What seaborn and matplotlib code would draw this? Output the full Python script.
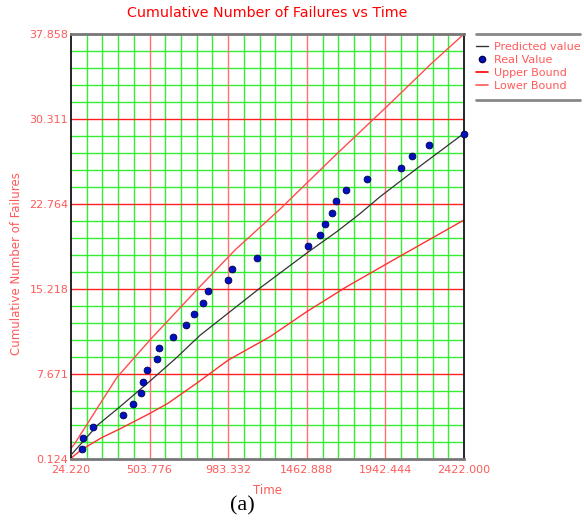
import matplotlib
matplotlib.use("Agg")
import matplotlib.pyplot as plt
from matplotlib.lines import Line2D
import seaborn as sns
import pandas as pd

# ---- data ----
time_real = [89.5, 97.4, 156.6, 343.3, 402.5, 451.3, 463.5, 487.9, 547.0, 563.0,
             644.7, 727.7, 774.7, 829.6, 858.2, 980.3, 1004.7, 1160.8, 1470.2, 1541.6,
             1573.9, 1614.8, 1639.2, 1700.2, 1830.2, 2039.4, 2106.5, 2208.4, 2422.0]
failures_real = [1, 2, 3, 4, 5, 6, 7, 8, 9, 10, 11, 12, 13, 14, 15, 16, 17, 18, 19, 20,
                 21, 22, 23, 24, 25, 26, 27, 28, 29]

time_pred = [24.22, 187.0, 311.0, 502.0, 659.0, 811.0, 994.0, 1177.0, 1462.0, 1645.0,
             1787.0, 1909.0, 2133.0, 2422.0]
failures_pred = [0.48, 3.14, 4.62, 6.99, 9.0, 11.1, 13.2, 15.3, 18.4, 20.3,
                 21.9, 23.4, 25.9, 29.04]

time_upper = [24.22, 44.6, 117.6, 209.1, 306.0, 506.0, 791.0, 1024.8, 1299.0, 1634.9,
              1950.0, 2225.0, 2422.0]
failures_upper = [1.07, 1.45, 3.1, 5.2, 7.4, 10.69, 15.13, 18.68, 22.3, 27.06,
                  31.40, 35.26, 37.858]

time_lower = [24.22, 85.2, 209.0, 323.0, 506.0, 616.0, 791.0, 984.0, 1238.0, 1462.0,
              1706.0, 1990.6, 2422.0]
failures_lower = [0.19, 0.92, 2.0, 2.8, 4.18, 5.07, 6.85, 8.91, 10.98, 13.2,
                  15.42, 17.79, 21.34]

x_ticks = [24.220, 503.776, 983.332, 1462.888, 1942.444, 2422.000]
x_tick_labels = ["24.220", "503.776", "983.332", "1462.888", "1942.444", "2422.000"]
y_ticks = [0.124, 7.671, 15.218, 22.764, 30.311, 37.858]
y_tick_labels = ["0.124", "7.671", "15.218", "22.764", "30.311", "37.858"]

title_text = "Cumulative Number of Failures vs Time"
x_label = "Time"
y_label = "Cumulative Number of Failures"
legend_labels = ["Predicted value", "Real Value", "Upper Bound", "Lower Bound"]
caption = "(a)"

# ---- plotting ----
sns.set_style("white")
plt.rcParams["font.family"] = ["DejaVu Sans"]

RED = "#ff2020"
LRED = "#ff5a5a"
GREEN = "#33ee33"

fig = plt.figure(figsize=(5.84, 5.21), dpi=100)
ax = fig.add_axes([71 / 584, 62 / 521, 393 / 584, 425 / 521])

ax.set_xlim(x_ticks[0], x_ticks[-1])
ax.set_ylim(y_ticks[0], y_ticks[-1])

# grid: minor green, major red
xstep = (x_ticks[1] - x_ticks[0]) / 5
ystep = (y_ticks[1] - y_ticks[0]) / 5
for i in range(1, 25):
    if i % 5:
        ax.axvline(x_ticks[0] + i * xstep, color=GREEN, lw=1.0, zorder=0)
        ax.axhline(y_ticks[0] + i * ystep, color=GREEN, lw=1.0, zorder=0)
for v in x_ticks[1:-1]:
    ax.axvline(v, color="#ff7070", lw=1.0, zorder=0.5)
for v in y_ticks[1:-1]:
    ax.axhline(v, color=RED, lw=1.0, zorder=0.5)

df_pred = pd.DataFrame({"t": time_pred, "n": failures_pred})
df_up = pd.DataFrame({"t": time_upper, "n": failures_upper})
df_lo = pd.DataFrame({"t": time_lower, "n": failures_lower})
df_real = pd.DataFrame({"t": time_real, "n": failures_real})

sns.lineplot(data=df_up, x="t", y="n", ax=ax, color="#ff4d4d", lw=1.0, zorder=2,
             sort=False, estimator=None)
sns.lineplot(data=df_lo, x="t", y="n", ax=ax, color="#ff3030", lw=1.0, zorder=2,
             sort=False, estimator=None)
sns.lineplot(data=df_pred, x="t", y="n", ax=ax, color="#333333", lw=0.9, zorder=3,
             sort=False, estimator=None)
sns.scatterplot(data=df_real, x="t", y="n", ax=ax, color="#0010c0", s=24,
                edgecolor="#000050", linewidth=0.6, zorder=4, clip_on=False)

ax.set_xticks(x_ticks)
ax.set_xticklabels(x_tick_labels)
ax.set_yticks(y_ticks)
ax.set_yticklabels(y_tick_labels)
ax.tick_params(axis="both", length=0, labelsize=8, labelcolor=LRED)
ax.tick_params(axis="x", pad=4)
ax.tick_params(axis="y", pad=2)
for lab in ax.get_xticklabels():
    lab.set_horizontalalignment("center")

ax.set_xlabel(x_label, color=LRED, fontsize=8.5, labelpad=7)
ax.set_ylabel(y_label, color=LRED, fontsize=8.5)
ax.yaxis.set_label_coords(-0.122, 0.461)
ax.set_title(title_text, color="#ff0000", fontsize=10.3, pad=12)

for side in ["left", "right"]:
    ax.spines[side].set_color("black")
    ax.spines[side].set_linewidth(1.2)
for side in ["top", "bottom"]:
    ax.spines[side].set_color("#777777")
    ax.spines[side].set_linewidth(2.0)
    ax.spines[side].set_visible(True)

# legend outside on the right
handles = [
    Line2D([], [], color="#333333", lw=1.0),
    Line2D([], [], color="#0010c0", marker="o", ls="none", markersize=4.5,
           markeredgecolor="#000050"),
    Line2D([], [], color="#ff0000", lw=1.2),
    Line2D([], [], color="#ff5a5a", lw=1.2),
]
leg = fig.legend(handles, legend_labels, loc="upper left",
                 bbox_to_anchor=(476 / 584, 1 - 41.5 / 521), frameon=False,
                 fontsize=8, handlelength=1.1, handletextpad=0.5,
                 labelspacing=0.28, borderaxespad=0, borderpad=0)
for t in leg.get_texts():
    t.set_color(LRED)
fig.add_artist(Line2D([476 / 584, 580 / 584], [1 - 33.5 / 521, 1 - 33.5 / 521],
                      color="#888888", lw=2, transform=fig.transFigure))
fig.add_artist(Line2D([476 / 584, 580 / 584], [1 - 100 / 521, 1 - 100 / 521],
                      color="#888888", lw=2, transform=fig.transFigure))

fig.text(242 / 584, 1 - 506 / 521, caption, ha="center", va="center",
         fontsize=16, family="Liberation Serif", color="black")

fig.savefig("out.png", dpi=100)
